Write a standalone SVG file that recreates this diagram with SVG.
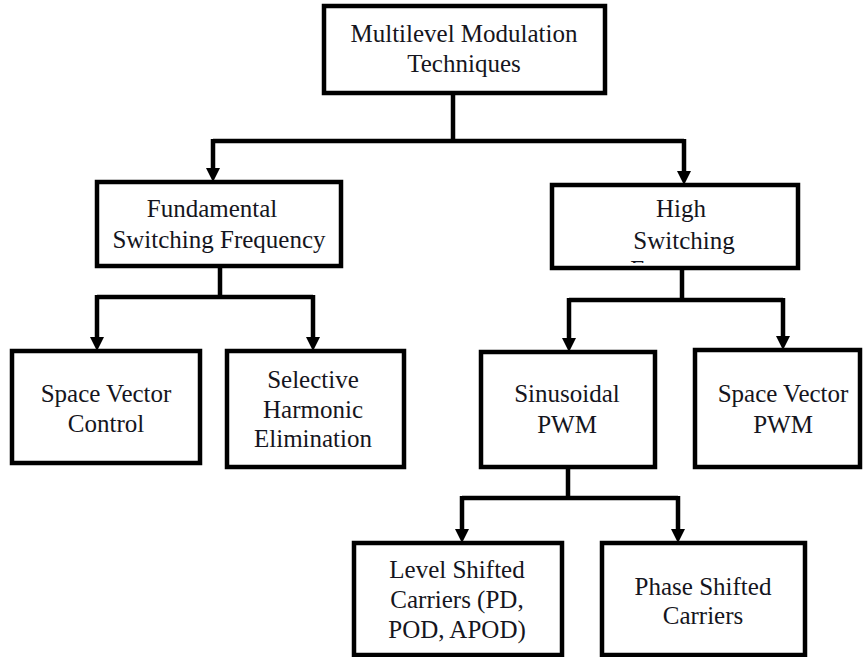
<svg xmlns="http://www.w3.org/2000/svg" width="864" height="657" viewBox="0 0 864 657">
<defs>
<style>
.box{fill:#fff;stroke:#000;stroke-width:4.5}
.t{font-family:'Liberation Serif','Times New Roman',Tinos,'Nimbus Roman','Noto Serif','DejaVu Serif',serif;font-size:25px;fill:#151520;text-anchor:middle}
.c{fill:none;stroke:#000;stroke-width:4.5}
</style>
<clipPath id="hsclip"><rect x="552" y="185" width="246" height="78"/></clipPath>
</defs>
<rect width="864" height="657" fill="#fff"/>
<g id="connectors">
<path class="c" d="M453,93 V141 M213,141 H684 M213,139 V170 M684,139 V173"/>
<path class="c" d="M220,266 V297 M97,297 H313 M682,268 V300 M569,300 H783 M568,467 V498 M462,498 H678"/>
<path class="c" d="M97,295 V339 M313,295 V339 M569,298 V340 M783,298 V338 M462,496 V531 M678,496 V531"/>
<g fill="#000">
<path d="M206,168 L220,168 L213,182 Z"/>
<path d="M677,171 L691,171 L684,185 Z"/>
<path d="M90,337 L104,337 L97,351 Z"/>
<path d="M306,337 L320,337 L313,351 Z"/>
<path d="M562,338 L576,338 L569,352 Z"/>
<path d="M776,336 L790,336 L783,350 Z"/>
<path d="M455,529 L469,529 L462,543 Z"/>
<path d="M671,529 L685,529 L678,543 Z"/>
</g>
</g>
<g id="n-root">
<rect class="box" x="324" y="6" width="281" height="87"/>
<text class="t" x="464" y="42">Multilevel Modulation</text>
<text class="t" x="464" y="72">Techniques</text>
</g>
<g id="n-fundamental">
<rect class="box" x="97" y="182" width="244" height="84"/>
<text class="t" x="212" y="217">Fundamental</text>
<text class="t" x="219" y="248">Switching Frequency</text>
</g>
<g id="n-high">
<rect class="box" x="552" y="185" width="246" height="83"/>
<g clip-path="url(#hsclip)">
<text class="t" x="681" y="217">High</text>
<text class="t" x="684" y="249">Switching</text>
<text class="t" x="683" y="278">Frequency</text>
</g>
</g>
<g id="n-svc">
<rect class="box" x="12" y="351" width="188" height="112"/>
<text class="t" x="106" y="402">Space Vector</text>
<text class="t" x="106" y="432">Control</text>
</g>
<g id="n-she">
<rect class="box" x="227" y="351" width="177" height="116"/>
<text class="t" x="313" y="388">Selective</text>
<text class="t" x="313" y="418">Harmonic</text>
<text class="t" x="313" y="447">Elimination</text>
</g>
<g id="n-spwm">
<rect class="box" x="481" y="352" width="174" height="115"/>
<text class="t" x="567" y="402">Sinusoidal</text>
<text class="t" x="567" y="433">PWM</text>
</g>
<g id="n-svpwm">
<rect class="box" x="695" y="350" width="165" height="117"/>
<text class="t" x="783" y="402">Space Vector</text>
<text class="t" x="783" y="433">PWM</text>
</g>
<g id="n-lsc">
<rect class="box" x="354" y="543" width="208" height="112"/>
<text class="t" x="457" y="578">Level Shifted</text>
<text class="t" x="457" y="608">Carriers (PD,</text>
<text class="t" x="457" y="638">POD, APOD)</text>
</g>
<g id="n-psc">
<rect class="box" x="602" y="543" width="203" height="112"/>
<text class="t" x="703" y="595">Phase Shifted</text>
<text class="t" x="703" y="624">Carriers</text>
</g>
</svg>
